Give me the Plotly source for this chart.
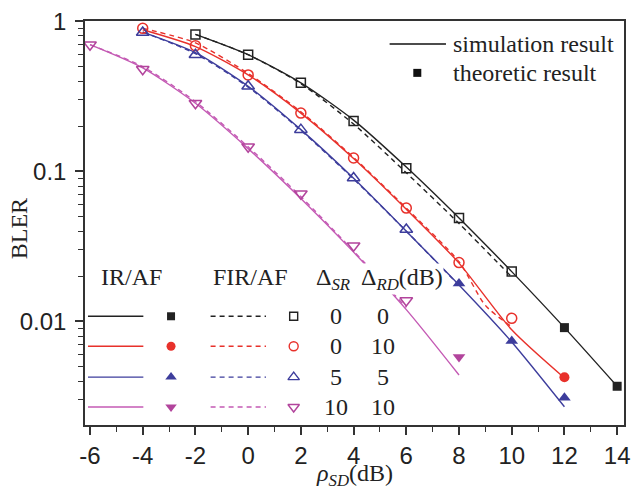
import plotly.graph_objects as go

# ---------------- data ----------------
# simulation curves (IR/AF solid, FIR/AF dashed)
sim_ir_00_x = [-2, 0, 2, 4, 6, 8, 10, 12, 14]
sim_ir_00_y = [0.82, 0.60, 0.39, 0.22, 0.107, 0.049, 0.0215, 0.0091, 0.0037]
sim_fir_00_x = [-2, 0, 2, 4, 6, 8, 10]
sim_fir_00_y = [0.82, 0.60, 0.385, 0.207, 0.098, 0.045, 0.0198]

sim_ir_010_x = [-4, -2, 0, 2, 4, 6, 8, 10, 12]
sim_ir_010_y = [0.88, 0.68, 0.44, 0.245, 0.122, 0.056, 0.0245, 0.0088, 0.0042]
sim_fir_010_x = [-4, -2, 0, 2, 4, 6, 8, 9, 10]
sim_fir_010_y = [0.90, 0.72, 0.45, 0.25, 0.124, 0.057, 0.025, 0.0128, 0.0092]

sim_ir_55_x = [-4, -2, 0, 2, 4, 6, 8, 10, 12]
sim_ir_55_y = [0.85, 0.62, 0.37, 0.19, 0.090, 0.040, 0.0175, 0.0073, 0.0027]
sim_fir_55_x = [-4, -2, 0, 2, 4, 6, 8]
sim_fir_55_y = [0.85, 0.61, 0.365, 0.188, 0.089, 0.040, 0.0174]

sim_ir_1010_x = [-6, -4, -2, 0, 2, 4, 6, 8]
sim_ir_1010_y = [0.70, 0.49, 0.285, 0.142, 0.066, 0.029, 0.012, 0.0044]
sim_fir_1010_x = [-6, -4, -2, 0, 2, 4, 6]
sim_fir_1010_y = [0.70, 0.50, 0.292, 0.146, 0.068, 0.0295, 0.0124]

# theoretic results (FIR/AF open markers, IR/AF filled markers)
th_fir_00_x = [-2, 0, 2, 4, 6, 8, 10]
th_fir_00_y = [0.82, 0.60, 0.39, 0.217, 0.105, 0.049, 0.0215]
th_ir_00_x = [12, 14]
th_ir_00_y = [0.0091, 0.0037]

th_fir_010_x = [-4, -2, 0, 2, 4, 6, 8, 10]
th_fir_010_y = [0.90, 0.69, 0.44, 0.245, 0.123, 0.057, 0.0247, 0.0105]
th_ir_010_x = [12]
th_ir_010_y = [0.00425]

th_fir_55_x = [-4, -2, 0, 2, 4, 6]
th_fir_55_y = [0.845, 0.60, 0.37, 0.19, 0.0905, 0.041]
th_ir_55_x = [8, 10, 12]
th_ir_55_y = [0.0179, 0.0074, 0.0031]

th_fir_1010_x = [-6, -4, -2, 0, 2, 4, 6]
th_fir_1010_y = [0.70, 0.48, 0.285, 0.146, 0.071, 0.032, 0.0138]
th_ir_1010_x = [8]
th_ir_1010_y = [0.0058]

x_ticks = [-6, -4, -2, 0, 2, 4, 6, 8, 10, 12, 14]
x_tick_text = ["-6", "-4", "-2", "0", "2", "4", "6", "8", "10", "12", "14"]
x_minor_ticks = [-5, -3, -1, 1, 3, 5, 7, 9, 11, 13]
y_ticks = [1, 0.1, 0.01]
y_tick_text = ["1", "0.1", "0.01"]

delta_sr = ["0", "0", "5", "10"]
delta_rd = ["0", "10", "5", "10"]

# ---------------- style ----------------
C_BLACK = "#222222"
C_RED = "#e8312b"
C_BLUE = "#3d3d9c"
C_MAG = "#c45ab4"
C_MAG_M = "#b2449c"
colors = [C_BLACK, C_RED, C_BLUE, C_MAG]
mcolors = [C_BLACK, C_RED, C_BLUE, C_MAG_M]
sym_filled = ["square", "circle", "triangle-up", "triangle-down"]
sym_open = ["square-open", "circle-open", "triangle-up-open", "triangle-down-open"]
msize = [9, 10, 11, 11]

SERIF = "Liberation Serif"
SANS = "Liberation Sans, Arial"

# plot area in pixels
L, R, T, B = 85, 630, 20, 425
W, H = 638, 491

def pxx(x):
    return (x - L) / (R - L)

def pxy(y):
    return (B - y) / (B - T)

fig = go.Figure()

sims = [
    (sim_ir_00_x, sim_ir_00_y, sim_fir_00_x, sim_fir_00_y),
    (sim_ir_010_x, sim_ir_010_y, sim_fir_010_x, sim_fir_010_y),
    (sim_ir_55_x, sim_ir_55_y, sim_fir_55_x, sim_fir_55_y),
    (sim_ir_1010_x, sim_ir_1010_y, sim_fir_1010_x, sim_fir_1010_y),
]
ths = [
    (th_fir_00_x, th_fir_00_y, th_ir_00_x, th_ir_00_y),
    (th_fir_010_x, th_fir_010_y, th_ir_010_x, th_ir_010_y),
    (th_fir_55_x, th_fir_55_y, th_ir_55_x, th_ir_55_y),
    (th_fir_1010_x, th_fir_1010_y, th_ir_1010_x, th_ir_1010_y),
]

for i, (ix, iy, fx, fy) in enumerate(sims):
    fig.add_trace(go.Scatter(x=fx, y=fy, mode="lines",
                             line=dict(color=colors[i], width=1.4, dash="5px,4px",
                                       shape="spline", smoothing=0.7),
                             showlegend=False, hoverinfo="skip"))
    fig.add_trace(go.Scatter(x=ix, y=iy, mode="lines",
                             line=dict(color=colors[i], width=1.4,
                                       shape="spline", smoothing=0.7),
                             showlegend=False, hoverinfo="skip"))

for i, (ox, oy, fx, fy) in enumerate(ths):
    fig.add_trace(go.Scatter(x=ox, y=oy, mode="markers",
                             marker=dict(symbol=sym_open[i], size=msize[i], color=mcolors[i],
                                         line=dict(width=1.5, color=mcolors[i])),
                             showlegend=False, hoverinfo="skip"))
    fig.add_trace(go.Scatter(x=fx, y=fy, mode="markers",
                             marker=dict(symbol=sym_filled[i], size=msize[i], color=mcolors[i],
                                         line=dict(width=0)),
                             showlegend=False, hoverinfo="skip"))

# ---------------- custom legend glyphs (pixel overlay axes) ----------------
rows_y = [316, 346, 377, 407]
for i, ry in enumerate(rows_y):
    fig.add_trace(go.Scatter(x=[88, 144], y=[ry, ry], mode="lines", xaxis="x2", yaxis="y2",
                             line=dict(color=colors[i], width=1.4), showlegend=False, hoverinfo="skip"))
    fig.add_trace(go.Scatter(x=[172], y=[ry], mode="markers", xaxis="x2", yaxis="y2",
                             marker=dict(symbol=sym_filled[i], size=msize[i] - 1, color=mcolors[i]),
                             showlegend=False, hoverinfo="skip"))
    fig.add_trace(go.Scatter(x=[212, 268], y=[ry, ry], mode="lines", xaxis="x2", yaxis="y2",
                             line=dict(color=colors[i], width=1.4, dash="5px,4px"),
                             showlegend=False, hoverinfo="skip"))
    fig.add_trace(go.Scatter(x=[296], y=[ry], mode="markers", xaxis="x2", yaxis="y2",
                             marker=dict(symbol=sym_open[i], size=msize[i] - 1, color=mcolors[i],
                                         line=dict(width=1.4, color=mcolors[i])),
                             showlegend=False, hoverinfo="skip"))

# top-right legend
fig.add_trace(go.Scatter(x=[393, 450], y=[43, 43], mode="lines", xaxis="x2", yaxis="y2",
                         line=dict(color="#111111", width=1.4), showlegend=False, hoverinfo="skip"))
fig.add_trace(go.Scatter(x=[421], y=[72], mode="markers", xaxis="x2", yaxis="y2",
                         marker=dict(symbol="square", size=8, color="#111111"),
                         showlegend=False, hoverinfo="skip"))

annotations = []

def txt(x, y, s, xanchor="center", size=24, bg=None, font=SERIF, angle=0):
    d = dict(x=pxx(x), y=pxy(y), xref="paper", yref="paper", text=s, showarrow=False,
             xanchor=xanchor, yanchor="middle", font=dict(family=font, size=size, color="#222222"),
             borderpad=0, textangle=angle)
    if bg:
        d["bgcolor"] = bg
    annotations.append(d)

txt(456, 43, "simulation result", xanchor="left")
txt(456, 72, "theoretic result", xanchor="left")
txt(132, 277, "IR/AF")
txt(252, 277, "FIR/AF")
txt(336, 279, "Δ<sub><i>SR</i></sub>", bg="white")
txt(363, 279, "Δ<sub><i>RD</i></sub>(dB)", xanchor="left", bg="white")
for i, ry in enumerate(rows_y):
    txt(339, ry, delta_sr[i])
    txt(386, ry, delta_rd[i])

# axis titles
txt(19, 228, "BLER", angle=-90)
txt(358, 475, "<i>ρ</i><sub><i>SD</i></sub>(dB)")

axis_color = "#333333"
minor_y = []
for dec in [0.001, 0.01, 0.1]:
    for m in range(2, 10):
        minor_y.append(m * dec)

fig.update_layout(
    width=W, height=H,
    margin=dict(l=L, r=W - R, t=T, b=H - B),
    paper_bgcolor="white", plot_bgcolor="white",
    showlegend=False,
    annotations=annotations,
    xaxis=dict(range=[-6.19, 14.26], tickvals=x_ticks, ticktext=x_tick_text,
               ticks="outside", ticklen=8, tickwidth=1.5,
               tickcolor=axis_color, showline=True, linecolor=axis_color, linewidth=1.5,
               mirror=True, showgrid=False, zeroline=False,
               tickfont=dict(family=SANS, size=24, color="#222222"),
               minor=dict(tickvals=x_minor_ticks, ticks="outside",
                          ticklen=5, tickwidth=1.2, tickcolor=axis_color, showgrid=False)),
    yaxis=dict(type="log", range=[-2.69, 0.003], tickvals=y_ticks, ticktext=y_tick_text,
               ticks="outside", ticklen=8, tickwidth=1.5, tickcolor=axis_color,
               showline=True, linecolor=axis_color, linewidth=1.5, mirror=True,
               showgrid=False, zeroline=False, ticklabelstandoff=4,
               tickfont=dict(family=SANS, size=24, color="#222222"),
               minor=dict(tickvals=minor_y, ticks="outside", ticklen=5, tickwidth=1.2,
                          tickcolor=axis_color, showgrid=False)),
    xaxis2=dict(range=[L, R], overlaying="x", anchor="y2", visible=False, fixedrange=True),
    yaxis2=dict(range=[B, T], overlaying="y", anchor="x2", visible=False, fixedrange=True),
)

fig.write_html("out.html", config={"displayModeBar": False},
               post_script="document.body.style.margin='0';document.body.style.overflow='hidden';")
